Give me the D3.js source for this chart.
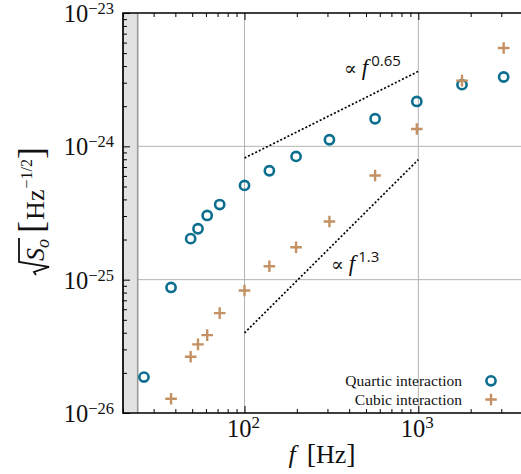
<!DOCTYPE html>
<html>
<head>
<meta charset="utf-8">
<script src="https://cdn.jsdelivr.net/npm/d3@7"></script>
<style>
  html, body { margin: 0; padding: 0; background: #fff; }
  svg { display: block; }
  text { font-family: "Liberation Serif", "Times New Roman", serif; fill: #111; }
</style>
</head>
<body>
<svg id="chart" width="521" height="474"></svg>
<script>
// Frequencies (Hz) of the quartic-interaction points
const quarticFreq = [26.4, 37.8, 49, 54, 61, 72, 100, 139, 198, 308, 564, 980, 1783, 3096];
// Amplitude spectral density for the quartic interaction (Hz^-1/2)
const quarticVals = [1.86e-26, 8.74e-26, 2.03e-25, 2.41e-25, 3.03e-25, 3.66e-25, 5.09e-25,
                     6.56e-25, 8.40e-25, 1.12e-24, 1.61e-24, 2.17e-24, 2.90e-24, 3.31e-24];
// Frequencies (Hz) of the cubic-interaction points
const cubicFreq = [37.8, 49, 54, 61, 72, 100, 139, 198, 308, 564, 980, 1783, 3096];
// Amplitude spectral density for the cubic interaction (Hz^-1/2)
const cubicVals = [1.28e-26, 2.64e-26, 3.27e-26, 3.84e-26, 5.61e-26, 8.30e-26, 1.26e-25,
                   1.75e-25, 2.73e-25, 6.05e-25, 1.35e-24, 3.11e-24, 5.46e-24];
// Power-law guide lines: [f_start, f_end], amplitude at f_end, exponent
const guideRange = [100, 1000];
const guideSlow = { amp: 3.65e-24, exp: 0.65, label: "0.65" };
const guideFast = { amp: 7.95e-25, exp: 1.3, label: "1.3" };
// Excluded low-frequency band (Hz)
const bandRange = [20, 24.3];
// Tick decades
const xMajor = [100, 1000];
const yExponents = [-23, -24, -25, -26];
const xExponents = [2, 3];
const legendLabels = ["Quartic interaction", "Cubic interaction"];

const teal = "#0c6e8e";
const tan = "#c49164";

const svg = d3.select("#chart");
const L = 123, R = 523, T = 13, B = 413;

const x = d3.scaleLog().domain([20, 4000]).range([L, R]);
const y = d3.scaleLog().domain([1e-26, 1e-23]).range([B, T]);

svg.append("clipPath").attr("id", "plotclip")
  .append("rect").attr("x", L).attr("y", T).attr("width", R - L).attr("height", B - T);

// Grid at the decades
const grid = svg.append("g");
grid.selectAll("line.gx").data(xMajor).join("line")
  .attr("x1", d => x(d)).attr("x2", d => x(d)).attr("y1", T).attr("y2", B)
  .attr("stroke", "#b3b3b3").attr("stroke-width", 1);
grid.selectAll("line.gy").data([1e-24, 1e-25]).join("line")
  .attr("x1", L).attr("x2", R).attr("y1", d => y(d)).attr("y2", d => y(d))
  .attr("stroke", "#b3b3b3").attr("stroke-width", 1);

// Shaded excluded band
svg.append("rect")
  .attr("x", x(bandRange[0])).attr("y", T)
  .attr("width", x(bandRange[1]) - x(bandRange[0])).attr("height", B - T)
  .attr("fill", "#e2e2e2");
svg.append("line")
  .attr("x1", x(bandRange[1])).attr("x2", x(bandRange[1])).attr("y1", T).attr("y2", B)
  .attr("stroke", "#9a9a9a").attr("stroke-width", 1.6);

// Power-law guides
function guidePoints(g) {
  return guideRange.map(f => [f, g.amp * Math.pow(f / guideRange[1], g.exp)]);
}
const line = d3.line().x(d => x(d[0])).y(d => y(d[1]));
[guideSlow, guideFast].forEach(g => {
  svg.append("path").datum(guidePoints(g))
    .attr("d", line).attr("fill", "none")
    .attr("stroke", "#000").attr("stroke-width", 1.7)
    .attr("stroke-dasharray", "2,2");
});

function guideLabel(px, py, exp) {
  const t = svg.append("text").attr("x", px).attr("y", py).style("font-size", "23px");
  t.append("tspan").style("font-family", "'DejaVu Serif', serif").style("font-size", "19px").text("\u221D");
  t.append("tspan").attr("dx", 5).style("font-style", "italic").text("f");
  t.append("tspan").attr("dy", -9).attr("dx", 3)
    .style("font-size", "15px").style("font-family", "'Open Sans', 'DejaVu Sans', sans-serif").text(exp);
}
guideLabel(344, 75, guideSlow.label);
guideLabel(331, 271, guideFast.label);

// Data markers
const plot = svg.append("g").attr("clip-path", "url(#plotclip)");
const quartic = quarticFreq.map((f, i) => ({ f, v: quarticVals[i] }));
const cubic = cubicFreq.map((f, i) => ({ f, v: cubicVals[i] }));

plot.selectAll("circle.q").data(quartic).join("circle")
  .attr("cx", d => x(d.f)).attr("cy", d => y(d.v)).attr("r", 4.6)
  .attr("fill", "none").attr("stroke", teal).attr("stroke-width", 2.6);

function plusPath(s) {
  return `M${-s},0H${s}M0,${-s}V${s}`;
}
plot.selectAll("path.c").data(cubic).join("path")
  .attr("transform", d => `translate(${x(d.f)},${y(d.v)})`)
  .attr("d", plusPath(5.8))
  .attr("fill", "none").attr("stroke", tan).attr("stroke-width", 2.4);

// Axis ticks (inward)
const xMinor = x.ticks().filter(d => !xMajor.includes(d));
const yMajorVals = yExponents.map(e => Math.pow(10, e));
const yMinor = y.ticks().filter(d => !yMajorVals.some(m => Math.abs(m - d) / m < 1e-6));

function tickStyle(g) {
  g.select(".domain").remove();
  g.selectAll(".tick line").attr("stroke", "#000").attr("stroke-width", 1);
  g.selectAll(".tick text").remove();
}
svg.append("g").attr("transform", `translate(0,${B})`)
  .call(d3.axisBottom(x).tickValues(xMinor).tickSize(-4)).call(tickStyle);
svg.append("g").attr("transform", `translate(0,${B})`)
  .call(d3.axisBottom(x).tickValues(xMajor).tickSize(-7)).call(tickStyle);
svg.append("g").attr("transform", `translate(0,${T})`)
  .call(d3.axisTop(x).tickValues(xMinor).tickSize(-4)).call(tickStyle);
svg.append("g").attr("transform", `translate(0,${T})`)
  .call(d3.axisTop(x).tickValues(xMajor).tickSize(-7)).call(tickStyle);
svg.append("g").attr("transform", `translate(${L},0)`)
  .call(d3.axisLeft(y).tickValues(yMinor).tickSize(-4)).call(tickStyle);
svg.append("g").attr("transform", `translate(${L},0)`)
  .call(d3.axisLeft(y).tickValues(yMajorVals).tickSize(-7)).call(tickStyle);

// Spines
svg.append("path")
  .attr("d", `M${R},${T}H${L}V${B}H${R}V${T}`)
  .attr("fill", "none").attr("stroke", "#000").attr("stroke-width", 1.7);

// Tick labels
yExponents.forEach(e => {
  const t = svg.append("text").attr("x", 114).attr("y", y(Math.pow(10, e)) + 9)
    .attr("text-anchor", "end").style("font-size", "24.5px");
  t.append("tspan").text("10");
  t.append("tspan").attr("dy", -8).style("font-size", "16.5px").text("\u2212" + Math.abs(e));
});
xExponents.forEach(e => {
  const t = svg.append("text").attr("x", x(Math.pow(10, e)) - 1).attr("y", 437)
    .attr("text-anchor", "middle").style("font-size", "24.5px");
  t.append("tspan").text("10");
  t.append("tspan").attr("dy", -9).style("font-size", "17px").text(String(e));
});

// x-axis title
const xt = svg.append("text").attr("x", 322).attr("y", 463).attr("text-anchor", "middle")
  .style("font-size", "26px");
xt.append("tspan").style("font-style", "italic").text("f");
xt.append("tspan").attr("dx", 11).style("font-size", "28px").text("[");
xt.append("tspan").text("Hz");
xt.append("tspan").style("font-size", "28px").text("]");

// y-axis title: sqrt(S_o) [Hz^-1/2], laid out piece by piece
const yl = svg.append("g").attr("transform", "translate(44,211) rotate(-90)");
const pieces = [
  { key: "rad", text: "", w: 14 },
  { key: "S", text: "S", size: 26, italic: true, dy: 0 },
  { key: "o", text: "o", size: 18, italic: true, dy: 5 },
  { key: "gap", text: "", w: 6 },
  { key: "lb", text: "[", size: 36, dy: -1 },
  { key: "Hz", text: "Hz", size: 26, dy: 0 },
  { key: "exp", text: "\u22121/2", size: 16, dy: -12 },
  { key: "rb", text: "]", size: 36, dy: -1 }
];
let cursor = 0;
const pos = {};
pieces.forEach(p => {
  if (!p.text) { pos[p.key] = [cursor, cursor + p.w]; cursor += p.w; return; }
  const t = yl.append("text").attr("x", cursor).attr("y", p.dy)
    .style("font-size", p.size + "px")
    .style("font-style", p.italic ? "italic" : "normal")
    .text(p.text);
  const w = t.node().getComputedTextLength();
  pos[p.key] = [cursor, cursor + w];
  cursor += w + (p.key === "lb" ? 1 : p.key === "Hz" ? 1 : 0);
});
const total = cursor;
yl.selectAll("text").attr("transform", `translate(${-total / 2},0)`);
const r0 = pos.rad[0] - total / 2, r1 = pos.o[1] - total / 2 + 1;
yl.append("path")
  .attr("d", `M${r0},-8 L${r0 + 3},-10 L${r0 + 8},5 L${r0 + 13},-25 L${r1},-25`)
  .attr("fill", "none").attr("stroke", "#111").attr("stroke-width", 1.8)
  .attr("stroke-linejoin", "miter");

// Legend
const legend = svg.append("g");
legendLabels.forEach((lab, i) => {
  legend.append("text").attr("x", 462).attr("y", 386 + i * 18.5)
    .attr("text-anchor", "end").style("font-size", "15.5px").text(lab);
});
legend.append("circle").attr("cx", 491).attr("cy", 380.8).attr("r", 4.6)
  .attr("fill", "none").attr("stroke", teal).attr("stroke-width", 2.6);
legend.append("path").attr("transform", "translate(491,399.5)").attr("d", plusPath(5.8))
  .attr("fill", "none").attr("stroke", tan).attr("stroke-width", 2.4);
</script>
</body>
</html>
